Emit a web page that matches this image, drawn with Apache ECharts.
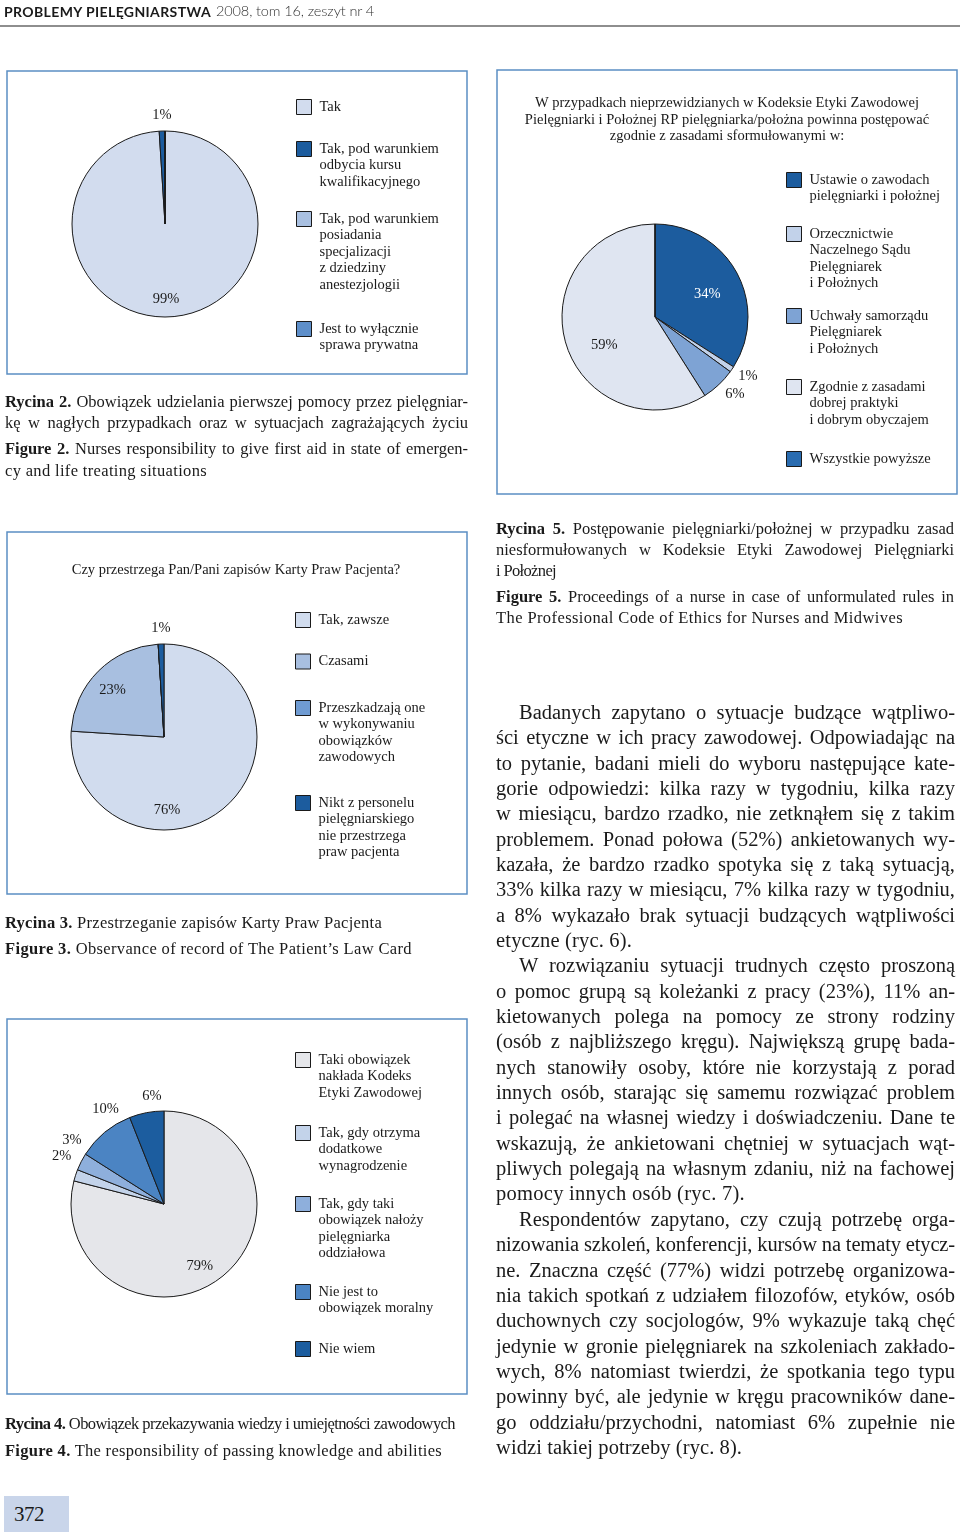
<!DOCTYPE html>
<html><head><meta charset="utf-8">
<script src="https://cdn.jsdelivr.net/npm/echarts@6/dist/echarts.min.js"></script>
<style>
html,body{margin:0;padding:0;background:#fff;}
#page{position:relative;width:960px;height:1540px;overflow:hidden;background:#fff;}
#chart{position:absolute;left:0;top:0;width:960px;height:1540px;}
.t{position:absolute;white-space:pre;font-family:"Liberation Serif","Times New Roman",serif;color:#1a1a1a;line-height:1;}
.h{position:absolute;white-space:pre;font-family:Lato,"DejaVu Sans",sans-serif;line-height:1;}
</style></head><body><div id="page"><div id="chart"></div></div>
<script>
// ---------- DATA ----------
const fig2Categories = ['Tak', 'Tak, pod warunkiem\nodbycia kursu\nkwalifikacyjnego', 'Tak, pod warunkiem\nposiadania\nspecjalizacji\nz dziedziny\nanestezjologii', 'Jest to wyłącznie\nsprawa prywatna'];
const fig2Values = [99, 1, 0, 0];

const fig5Title = 'W przypadkach nieprzewidzianych w Kodeksie Etyki Zawodowej\nPielęgniarki i Położnej RP pielęgniarka/położna powinna postępować\nzgodnie z zasadami sformułowanymi w:';
const fig5Categories = ['Ustawie o zawodach\npielęgniarki i położnej', 'Orzecznictwie\nNaczelnego Sądu\nPielęgniarek\ni Położnych', 'Uchwały samorządu\nPielęgniarek\ni Położnych', 'Zgodnie z zasadami\ndobrej praktyki\ni dobrym obyczajem', 'Wszystkie powyższe'];
const fig5Values = [34, 1, 6, 59, 0];

const fig3Title = 'Czy przestrzega Pan/Pani zapisów Karty Praw Pacjenta?';
const fig3Categories = ['Tak, zawsze', 'Czasami', 'Przeszkadzają one\nw wykonywaniu\nobowiązków\nzawodowych', 'Nikt z personelu\npielęgniarskiego\nnie przestrzega\npraw pacjenta'];
const fig3Values = [76, 23, 0, 1];

const fig4Categories = ['Taki obowiązek\nnakłada Kodeks\nEtyki Zawodowej', 'Tak, gdy otrzyma\ndodatkowe\nwynagrodzenie', 'Tak, gdy taki\nobowiązek nałoży\npielęgniarka\noddziałowa', 'Nie jest to\nobowiązek moralny', 'Nie wiem'];
const fig4Values = [79, 2, 3, 10, 6];

// ---------- STYLE ----------
const FONT = '"Liberation Serif", "Times New Roman", serif';
const LH = 16.5;
const panels = [
  { cats: fig2Categories, vals: fig2Values, center: [165, 224], radius: 93,
    colors: ['#d2dcee', '#1c5c9e', '#a9c0e1', '#5e8fca'],
    labelColors: ['#1a1a1a', '#1a1a1a', '#1a1a1a', '#1a1a1a'],
    labelShift: [[-0.5, 25.5], [-1.5, -59.5], null, null],
    legendLeft: 296, legendY: [107, 149, 219, 329] },
  { cats: fig5Categories, vals: fig5Values, center: [655, 317], radius: 93,
    colors: ['#1c5c9e', '#c2d2ea', '#7ea3d4', '#dfe5f1', '#2a6cb0'],
    labelColors: ['#ffffff', '#1a1a1a', '#1a1a1a', '#1a1a1a', '#1a1a1a'],
    labelShift: [[9, 1.4], [52, 31.6], [46, 41.1], [-3.1, 14.2], null],
    legendLeft: 786, legendY: [180, 234, 316, 387, 459] },
  { cats: fig3Categories, vals: fig3Values, center: [164, 737], radius: 93,
    colors: ['#d1dcee', '#a8bfe0', '#6f9bd2', '#1c5c9e'],
    labelColors: ['#1a1a1a', '#1a1a1a', '#1a1a1a', '#1a1a1a'],
    labelShift: [[-30.8, 37.4], [-16.4, -12.1], null, [-1.5, -59.2]],
    legendLeft: 295, legendY: [620, 661.5, 708, 803] },
  { cats: fig4Categories, vals: fig4Values, center: [164, 1204], radius: 93,
    colors: ['#e5e6ea', '#c3d3ea', '#8eafdc', '#4b84c3', '#1c5d9f'],
    labelColors: ['#1a1a1a', '#1a1a1a', '#1a1a1a', '#1a1a1a', '#1a1a1a'],
    labelShift: [[5.5, 23.1], [-55.3, -32.1], [-48.1, -41.2], [-26.9, -56.5], [-2.8, -59.3]],
    legendLeft: 295, legendY: [1060, 1133, 1204, 1292, 1349] }
];

function seriesFor(p) {
  return {
    type: 'pie', center: p.center, radius: p.radius, startAngle: 90, clockwise: true,
    animation: false, silent: true, avoidLabelOverlap: false,
    itemStyle: { borderColor: '#1a1a1a', borderWidth: 1 },
    emphasis: { disabled: true },
    label: { show: true, position: 'inside', fontFamily: FONT, fontSize: 14.5, color: '#1a1a1a',
      formatter: q => (q.value > 0 ? q.value + '%' : '') },
    labelLine: { show: false },
    labelLayout: q => { const s = p.labelShift[q.dataIndex]; return s ? { dx: s[0], dy: s[1] } : {}; },
    data: p.cats.map((n, i) => ({ name: n, value: p.vals[i], itemStyle: { color: p.colors[i] },
      label: { color: p.labelColors[i] } }))
  };
}
// one legend component per entry so the swatch sits beside the first text line
function legendsFor(p) {
  return p.cats.map((n, i) => {
    const lines = n.split('\n').length;
    return {
      orient: 'vertical', left: p.legendLeft, top: p.legendY[i] - (2 * lines - 1) * LH / 2,
      itemWidth: 15, itemHeight: 15, padding: 0, icon: 'rect', selectedMode: false,
      data: [{ name: n, textStyle: { padding: [(lines - 1) * LH, 0, 0, 3] } }],
      textStyle: { fontFamily: FONT, fontSize: 14.5, color: '#1a1a1a', lineHeight: LH, rich: { r: {} } },
      itemStyle: { borderColor: '#1a1a1a', borderWidth: 1 }
    };
  });
}

const boxStyle = { fill: 'none', stroke: '#5b8ec3', lineWidth: 1.5 };
const chart = echarts.init(document.getElementById('chart'), null, { renderer: 'canvas' });
chart.setOption({
  animation: false,
  series: panels.map(seriesFor),
  legend: panels.flatMap(legendsFor),
  graphic: [
    { type: 'rect', shape: { x: 7, y: 71, width: 460, height: 303 }, style: boxStyle, silent: true },
    { type: 'rect', shape: { x: 497, y: 70, width: 460, height: 424 }, style: boxStyle, silent: true },
    { type: 'rect', shape: { x: 7, y: 532, width: 460, height: 362 }, style: boxStyle, silent: true },
    { type: 'rect', shape: { x: 7, y: 1019, width: 460, height: 375 }, style: boxStyle, silent: true },
    { type: 'text', x: 727, y: 120, silent: true,
      style: { text: fig5Title, align: 'center', verticalAlign: 'middle', font: '14.5px ' + FONT, lineHeight: LH, fill: '#1a1a1a' } },
    { type: 'text', x: 236, y: 570.5, silent: true,
      style: { text: fig3Title, align: 'center', verticalAlign: 'middle', font: '14.5px ' + FONT, lineHeight: LH, fill: '#1a1a1a' } }
  ]
});

// ---------- PAGE TEXT ----------
const page = document.getElementById('page');
function addLine(html, x, yc, fs, endX, mode, cls) {
  const d = document.createElement('div');
  d.className = cls || 't';
  d.style.left = x + 'px';
  d.style.top = (yc - fs * 0.52) + 'px';
  d.style.fontSize = fs + 'px';
  d.innerHTML = html;
  page.appendChild(d);
  if (endX) {
    const w = endX - x;
    const nat = d.getBoundingClientRect().width;
    const txt = d.textContent;
    const spaces = (txt.match(/ /g) || []).length;
    if (mode === 'j' && spaces > 0 && nat < w) d.style.wordSpacing = ((w - nat) / spaces) + 'px';
    else d.style.letterSpacing = ((w - nat) / txt.length) + 'px';
  }
  return d;
}

// header
const hb = document.createElement('div');
hb.className = 'h';
hb.style.cssText += 'left:4px;top:5px;font-size:14px;font-weight:700;color:#1a1a1a;';
hb.textContent = 'PROBLEMY PIELĘGNIARSTWA';
page.appendChild(hb);
const hbW = hb.getBoundingClientRect().width;
hb.style.letterSpacing = ((207 - hbW) / 23) + 'px';
const hl = addLine('2008, tom 16, zeszyt nr 4', 216, 12, 14.5, 375, 'n', 'h');
hl.style.color = '#333'; hl.style.fontWeight = '300';
const rule = document.createElement('div');
rule.style.cssText = 'position:absolute;left:0;top:25px;width:960px;height:2px;background:#8e8e8e;';
page.appendChild(rule);

// captions
const CF = 16.5;
[
  ['<b>Rycina 2.</b> Obowiązek udzielania pierwszej pomocy przez pielęgniar-', 5, 403, 468, 'j'],
  ['kę w nagłych przypadkach oraz w sytuacjach zagrażających życiu', 5, 424, 468, 'j'],
  ['<b>Figure 2.</b> Nurses responsibility to give first aid in state of emergen-', 5, 450, 468, 'j'],
  ['cy and life treating situations', 5, 472, 207, 'n'],
  ['<b>Rycina 5.</b> Postępowanie pielęgniarki/położnej w przypadku zasad', 496, 530, 954, 'j'],
  ['niesformułowanych w Kodeksie Etyki Zawodowej Pielęgniarki', 496, 551, 954, 'j'],
  ['i Położnej', 496, 571.5, 556, 'n'],
  ['<b>Figure 5.</b> Proceedings of a nurse in case of unformulated rules in', 496, 598, 954, 'j'],
  ['The Professional Code of Ethics for Nurses and Midwives', 496, 618.5, 903, 'n'],
  ['<b>Rycina 3.</b> Przestrzeganie zapisów Karty Praw Pacjenta', 5, 923.5, 382, 'n'],
  ['<b>Figure 3.</b> Observance of record of The Patient’s Law Card', 5, 950, 412, 'n'],
  ['<b>Rycina 4.</b> Obowiązek przekazywania wiedzy i umiejętności zawodowych', 5, 1425, 455, 'n'],
  ['<b>Figure 4.</b> The responsibility of passing knowledge and abilities', 5, 1451.5, 442, 'n']
].forEach(c => addLine(c[0], c[1], c[2], CF, c[3], c[4]));

// body text
const bodyLines = [
  ['Badanych zapytano o sytuacje budzące wątpliwo-', 1, 'j'],
  ['ści etyczne w ich pracy zawodowej. Odpowiadając na', 0, 'j'],
  ['to pytanie, badani mieli do wyboru następujące kate-', 0, 'j'],
  ['gorie odpowiedzi: kilka razy w tygodniu, kilka razy', 0, 'j'],
  ['w miesiącu, bardzo rzadko, nie zetknąłem się z takim', 0, 'j'],
  ['problemem. Ponad połowa (52%) ankietowanych wy-', 0, 'j'],
  ['kazała, że bardzo rzadko spotyka się z taką sytuacją,', 0, 'j'],
  ['33% kilka razy w miesiącu, 7% kilka razy w tygodniu,', 0, 'j'],
  ['a 8% wykazało brak sytuacji budzących wątpliwości', 0, 'j'],
  ['etyczne (ryc. 6).', 0, 'n', 632],
  ['W rozwiązaniu sytuacji trudnych często proszoną', 1, 'j'],
  ['o pomoc grupą są koleżanki z pracy (23%), 11% an-', 0, 'j'],
  ['kietowanych polega na pomocy ze strony rodziny', 0, 'j'],
  ['(osób z najbliższego kręgu). Największą grupę bada-', 0, 'j'],
  ['nych stanowiły osoby, które nie korzystają z porad', 0, 'j'],
  ['innych osób, starając się samemu rozwiązać problem', 0, 'j'],
  ['i polegać na własnej wiedzy i doświadczeniu. Dane te', 0, 'j'],
  ['wskazują, że ankietowani chętniej w sytuacjach wąt-', 0, 'j'],
  ['pliwych polegają na własnym zdaniu, niż na fachowej', 0, 'j'],
  ['pomocy innych osób (ryc. 7).', 0, 'n', 745],
  ['Respondentów zapytano, czy czują potrzebę orga-', 1, 'j'],
  ['nizowania szkoleń, konferencji, kursów na tematy etycz-', 0, 'j'],
  ['ne. Znaczna część (77%) widzi potrzebę organizowa-', 0, 'j'],
  ['nia takich spotkań z udziałem filozofów, etyków, osób', 0, 'j'],
  ['duchownych czy socjologów, 9% wykazuje taką chęć', 0, 'j'],
  ['jedynie w gronie pielęgniarek na szkoleniach zakłado-', 0, 'j'],
  ['wych, 8% natomiast twierdzi, że spotkania tego typu', 0, 'j'],
  ['powinny być, ale jedynie w kręgu pracowników dane-', 0, 'j'],
  ['go oddziału/przychodni, natomiast 6% zupełnie nie', 0, 'j'],
  ['widzi takiej potrzeby (ryc. 8).', 0, 'n', 742]
];
bodyLines.forEach((l, k) => {
  const x = l[1] ? 519 : 496;
  addLine(l[0], x, 712.5 + 25.35 * k, 20.5, l[3] || 955, l[2]);
});

// page number
const pn = document.createElement('div');
pn.style.cssText = 'position:absolute;left:4px;top:1496px;width:65px;height:36px;background:#c9d5ea;';
page.appendChild(pn);
addLine('372', 14, 1515, 21, 44, 'n');
</script></body></html>
